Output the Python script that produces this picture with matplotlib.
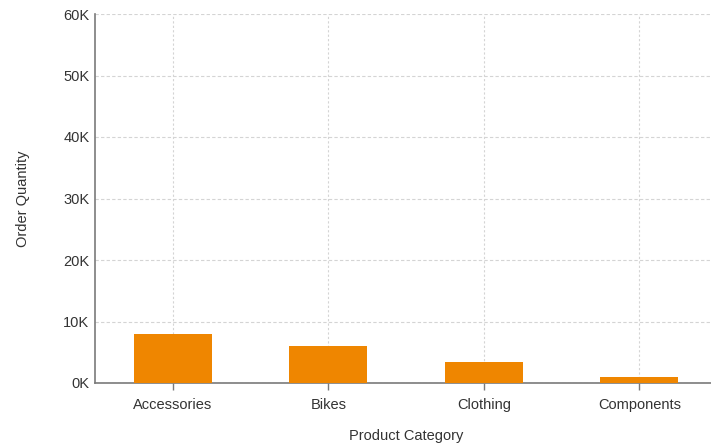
import matplotlib.pyplot as plt
from matplotlib.ticker import FuncFormatter

categories = ["Accessories", "Bikes", "Clothing", "Components"]
order_qty = [7950, 6000, 3400, 1050]
y_ticks = [0, 10000, 20000, 30000, 40000, 50000, 60000]

plt.rcParams["font.family"] = ["Liberation Sans", "DejaVu Sans"]

W, H = 711, 447
fig = plt.figure(figsize=(W / 100, H / 100), dpi=100)
ax = fig.add_axes([95 / W, (H - 383) / H, 622 / W, 369 / H])

x = range(len(categories))
ax.bar(x, order_qty, width=0.5, color="#EF8600", zorder=3)

ax.set_xlim(-0.5, 3.5)
ax.set_ylim(0, 60000)
ax.set_xticks(list(x))
ax.set_xticklabels(categories)
ax.set_yticks(y_ticks)
ax.yaxis.set_major_formatter(FuncFormatter(lambda v, _: f"{int(v / 1000)}K"))

ax.grid(axis="y", color="#d4d4d4", linestyle=(0, (3, 2)), linewidth=0.8, zorder=0)
ax.grid(axis="x", color="#d4d4d4", linestyle=(0, (2, 2)), linewidth=0.8, zorder=0)

for side in ("top", "right"):
    ax.spines[side].set_visible(False)
for side in ("left", "bottom"):
    ax.spines[side].set_color("#7a7a7a")
    ax.spines[side].set_linewidth(1.2)

ax.tick_params(axis="x", length=5, width=1, color="#7a7a7a", labelsize=10.5,
               labelcolor="#333333", pad=6)
ax.tick_params(axis="y", length=0, labelsize=10.5, labelcolor="#333333", pad=4)

ax.set_xlabel("Product Category", fontsize=10.5, color="#333333", labelpad=12)
ax.set_ylabel("Order Quantity", fontsize=10.5, color="#333333", labelpad=24)

fig.savefig("out.png", dpi=100)
